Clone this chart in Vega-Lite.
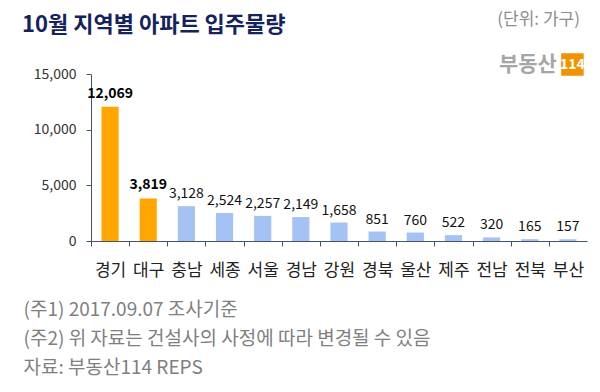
{
  "$schema": "https://vega.github.io/schema/vega-lite/v6.json",
  "width": 496,
  "height": 167,
  "autosize": {"type": "none"},
  "padding": {"left": 91, "top": 74, "right": 13, "bottom": 151},
  "background": "white",
  "config": {"view": {"stroke": null}, "font": "Noto Sans CJK KR"},
  "title": {
    "text": "10월 지역별 아파트 입주물량",
    "anchor": "start",
    "frame": "group",
    "dx": -69,
    "offset": -26,
    "fontSize": 22,
    "fontWeight": "bold",
    "color": "#15235c",
    "font": "Noto Sans CJK KR"
  },
  "data": {
    "values": [
      {"region": "경기", "value": 12069},
      {"region": "대구", "value": 3819},
      {"region": "충남", "value": 3128},
      {"region": "세종", "value": 2524},
      {"region": "서울", "value": 2257},
      {"region": "경남", "value": 2149},
      {"region": "강원", "value": 1658},
      {"region": "경북", "value": 851},
      {"region": "울산", "value": 760},
      {"region": "제주", "value": 522},
      {"region": "전남", "value": 320},
      {"region": "전북", "value": 165},
      {"region": "부산", "value": 157}
    ]
  },
  "encoding": {
    "x": {
      "field": "region",
      "type": "nominal",
      "sort": null,
      "scale": {"paddingInner": 0.55, "paddingOuter": 0.275},
      "axis": {
        "title": ["(주1) 2017.09.07 조사기준", "(주2) 위 자료는 건설사의 사정에 따라 변경될 수 있음", "자료: 부동산114 REPS"],
        "titleX": -68,
        "titleY": 59,
        "titleAlign": "left",
        "titleAnchor": "start",
        "titleBaseline": "top",
        "titleFontSize": 19,
        "titleFontWeight": "normal",
        "titleColor": "#7f7f7f",
        "titleLineHeight": 29,
        "labelAngle": 0,
        "labelFontSize": 17,
        "labelColor": "#222222",
        "labelPadding": 16,
        "tickSize": 5,
        "tickOffset": -19.077,
        "labelOffset": 19.077,
        "domainColor": "#44546a",
        "tickColor": "#44546a"
      }
    }
  },
  "layer": [
    {
      "mark": {"type": "bar"},
      "encoding": {
        "y": {
          "field": "value",
          "type": "quantitative",
          "scale": {"domain": [0, 15000], "nice": false},
          "axis": {
            "title": null,
            "values": [0, 5000, 10000, 15000],
            "labelExpr": "format(datum.value, ',')",
            "grid": false,
            "tickSize": 5,
            "labelFontSize": 14,
            "labelColor": "#333333",
            "labelPadding": 10,
            "domainColor": "#44546a",
            "tickColor": "#44546a"
          }
        },
        "color": {
          "condition": {"test": "datum.region === '경기' || datum.region === '대구'", "value": "#ffa600"},
          "value": "#a4c2f4"
        }
      }
    },
    {
      "transform": [{"filter": "datum.region !== '경기' && datum.region !== '대구'"}],
      "mark": {"type": "text", "baseline": "bottom", "dy": -5, "fontSize": 14, "color": "#111111"},
      "encoding": {
        "y": {"field": "value", "type": "quantitative"},
        "text": {"field": "value", "type": "quantitative", "format": ","}
      }
    },
    {
      "transform": [{"filter": "datum.region === '경기' || datum.region === '대구'"}],
      "mark": {"type": "text", "baseline": "bottom", "dy": -6, "fontSize": 14, "fontWeight": "bold", "color": "#000000"},
      "encoding": {
        "y": {"field": "value", "type": "quantitative"},
        "text": {"field": "value", "type": "quantitative", "format": ","}
      }
    },
    {
      "data": {"values": [{"unit": "(단위: 가구)"}]},
      "mark": {"type": "text", "align": "right", "baseline": "middle", "dx": 12, "dy": -54, "fontSize": 17, "color": "#8c8c8c"},
      "encoding": {
        "x": {"datum": "부산"},
        "y": {"datum": 15000},
        "text": {"field": "unit"}
      }
    },
    {
      "data": {"values": [{"logo": "부동산"}]},
      "mark": {"type": "text", "align": "right", "baseline": "middle", "dx": -11, "dy": -9, "fontSize": 21, "fontWeight": "bold", "color": "#a6a6a6"},
      "encoding": {
        "x": {"datum": "부산"},
        "y": {"datum": 15000},
        "text": {"field": "logo"}
      }
    },
    {
      "data": {"values": [{"logo": "114"}]},
      "mark": {"type": "square", "size": 506, "filled": true, "opacity": 1, "color": "#f39200", "xOffset": 4.5, "yOffset": -9.5},
      "encoding": {
        "x": {"datum": "부산"},
        "y": {"datum": 15000}
      }
    },
    {
      "data": {"values": [{"logo": "114"}]},
      "mark": {"type": "text", "align": "center", "baseline": "middle", "dx": 4.5, "dy": -9.5, "fontSize": 14, "fontWeight": "bold", "color": "#ffffff"},
      "encoding": {
        "x": {"datum": "부산"},
        "y": {"datum": 15000},
        "text": {"field": "logo"}
      }
    }
  ]
}
